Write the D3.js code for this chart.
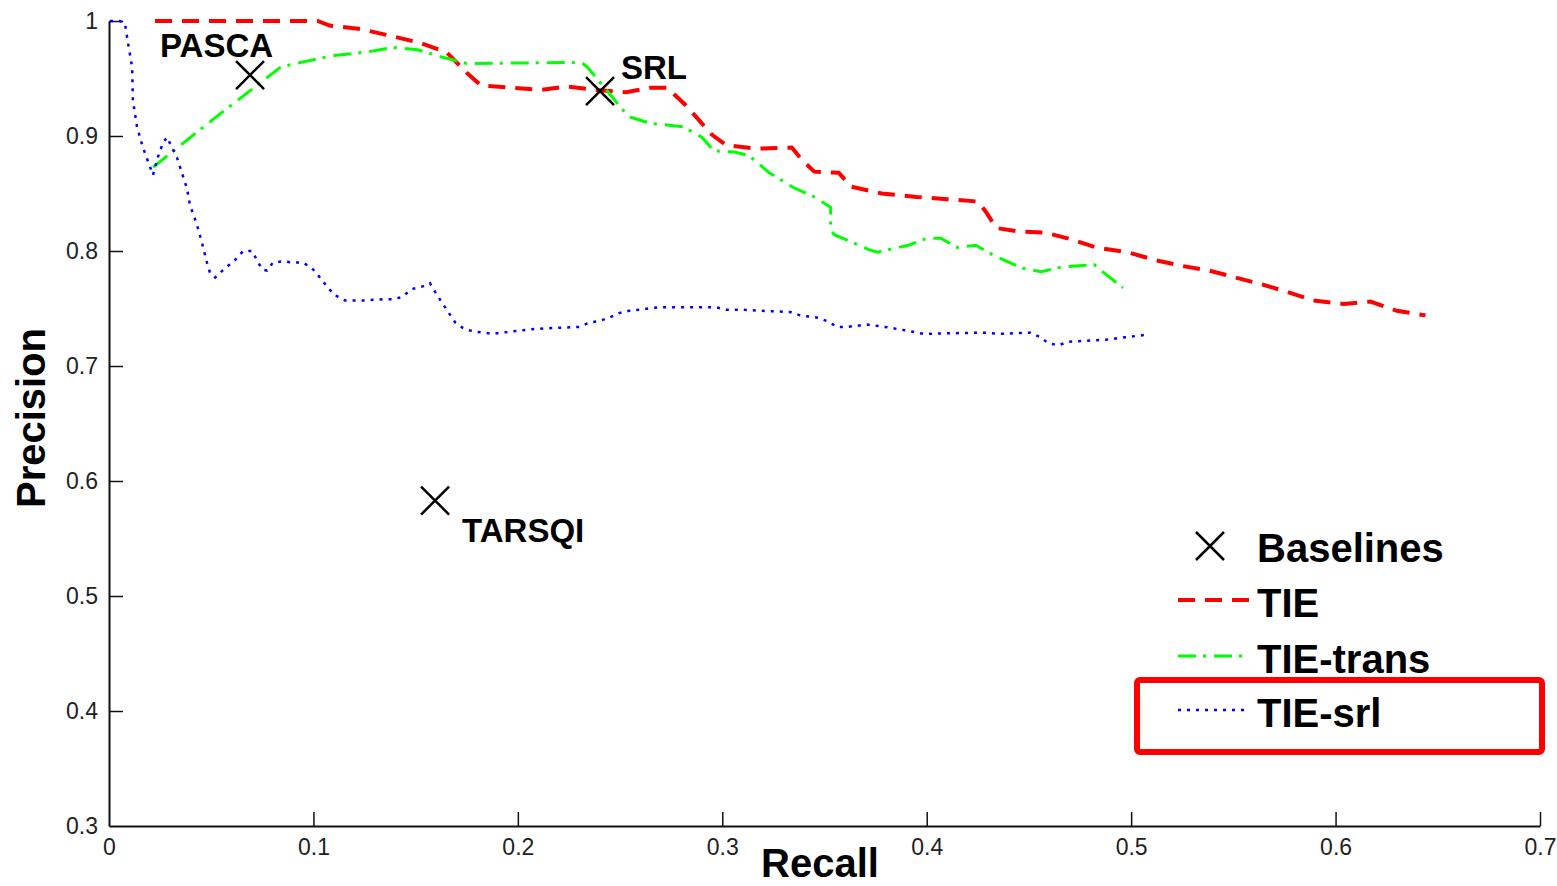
<!DOCTYPE html>
<html lang="en">
<head>
<meta charset="UTF-8">
<title>Precision / Recall</title>
<style>
  body { margin: 0; background: #fff; }
  svg { display: block; }
</style>
</head>
<body>
<script src="https://cdn.jsdelivr.net/npm/d3@7"></script>
<script>
// ---- data ----
var xTicks = [0, 0.1, 0.2, 0.3, 0.4, 0.5, 0.6, 0.7]
var yTicks = [0.3, 0.4, 0.5, 0.6, 0.7, 0.8, 0.9, 1]

var tieRecall = [0.0225, 0.102, 0.108, 0.123, 0.138, 0.152, 0.165, 0.175, 0.182, 0.197, 0.211, 0.224, 0.238, 0.253, 0.265, 0.273,
  0.282, 0.295, 0.302, 0.317, 0.334, 0.339, 0.345, 0.357, 0.363, 0.378, 0.395, 0.410, 0.425, 0.429, 0.434, 0.445, 0.458,
  0.471, 0.483, 0.498, 0.512, 0.525, 0.538, 0.551, 0.564, 0.577, 0.589, 0.604, 0.617, 0.630, 0.644]
var tiePrecision = [1.0, 1.0, 0.996, 0.993, 0.987, 0.981, 0.973, 0.955, 0.944, 0.942, 0.940, 0.943, 0.940, 0.938, 0.942, 0.942,
  0.927, 0.901, 0.892, 0.889, 0.890, 0.879, 0.869, 0.868, 0.856, 0.850, 0.847, 0.845, 0.843, 0.834, 0.820, 0.817, 0.816,
  0.810, 0.803, 0.799, 0.792, 0.787, 0.783, 0.777, 0.771, 0.764, 0.757, 0.754, 0.756, 0.748, 0.744]

var transRecall = [0.0216, 0.052, 0.084, 0.094, 0.110, 0.126, 0.139, 0.151, 0.162, 0.175, 0.231, 0.234, 0.254, 0.265, 0.281,
  0.290, 0.296, 0.306, 0.313, 0.323, 0.335, 0.345, 0.353, 0.353, 0.355, 0.372, 0.376, 0.391, 0.400, 0.407, 0.415, 0.424,
  0.434, 0.447, 0.456, 0.466, 0.482, 0.486, 0.496]
var transPrecision = [0.873, 0.916, 0.960, 0.964, 0.970, 0.973, 0.977, 0.975, 0.969, 0.963, 0.964, 0.960, 0.917, 0.911, 0.908,
  0.899, 0.887, 0.886, 0.883, 0.868, 0.855, 0.847, 0.838, 0.818, 0.814, 0.801, 0.799, 0.805, 0.811, 0.811, 0.803, 0.805,
  0.795, 0.785, 0.782, 0.786, 0.788, 0.782, 0.768]

var srlRecall = [0.0005, 0.0054, 0.0078, 0.0093, 0.0113, 0.0117, 0.0137, 0.0166, 0.0201, 0.0215, 0.0240, 0.0264, 0.0284,
  0.0308, 0.0333, 0.0362, 0.0382, 0.0396, 0.0430, 0.0455, 0.0479, 0.0494, 0.0519, 0.0568, 0.0616, 0.0656, 0.0700, 0.0724,
  0.0749, 0.0773, 0.0802, 0.0851, 0.0900, 0.0949, 0.0993, 0.1027, 0.1067, 0.1101, 0.1155, 0.1243, 0.1341, 0.1389, 0.1433,
  0.1482, 0.1531, 0.1570, 0.1600, 0.1629, 0.1663, 0.1693, 0.1732, 0.1781, 0.1830, 0.1879, 0.1923, 0.1972, 0.2021, 0.2065,
  0.2162, 0.2304, 0.2353, 0.2397, 0.2446, 0.2495, 0.2544, 0.2593, 0.2686, 0.2970, 0.3019, 0.3097, 0.3195, 0.3332, 0.3381,
  0.3469, 0.3513, 0.3562, 0.3611, 0.3708, 0.3796, 0.3894, 0.3982, 0.4271, 0.4369, 0.4506, 0.4555, 0.4594, 0.4643, 0.4692,
  0.4785, 0.4883, 0.4971, 0.5068]
var srlPrecision = [1.0, 1.0, 0.998, 0.981, 0.960, 0.931, 0.908, 0.890, 0.873, 0.866, 0.882, 0.894, 0.899,
  0.890, 0.881, 0.865, 0.854, 0.840, 0.823, 0.807, 0.790, 0.781, 0.777, 0.785, 0.792, 0.800, 0.800, 0.792,
  0.784, 0.783, 0.790, 0.791, 0.790, 0.790, 0.785, 0.778, 0.769, 0.762, 0.757, 0.757, 0.758, 0.758, 0.760,
  0.767, 0.769, 0.772, 0.763, 0.755, 0.746, 0.738, 0.733, 0.730, 0.729, 0.728, 0.729, 0.730, 0.731, 0.732,
  0.733, 0.734, 0.738, 0.739, 0.742, 0.746, 0.748, 0.749, 0.751, 0.751, 0.749, 0.749, 0.748, 0.747, 0.744,
  0.742, 0.739, 0.734, 0.734, 0.736, 0.734, 0.731, 0.728, 0.729, 0.728, 0.729, 0.725, 0.720, 0.718, 0.721,
  0.722, 0.723, 0.725, 0.727]

var baselineNames = ['PASCA', 'SRL', 'TARSQI']
var baselineRecall = [0.069, 0.2402, 0.1595]
var baselinePrecision = [0.953, 0.939, 0.583]

var seriesNames = ['TIE', 'TIE-trans', 'TIE-srl']

// ---- layout ----
var W = 1557, H = 886
var padL = 109, padR = 1540, padT = 21, padB = 826

var x = d3.scaleLinear().domain([0, 0.7]).range([padL, padR])
var y = d3.scaleLinear().domain([0.3, 1]).range([padB, padT])

var svg = d3.select('body').append('svg').attr('width', W).attr('height', H)

var tickFont = '"Liberation Sans Narrow","Arial Narrow","Liberation Sans",Arial,sans-serif'
var boldFont = '"Liberation Sans",Arial,Helvetica,sans-serif'

// axes, matlab style: ticks pointing inward, no box
var xAxis = svg.append('g').attr('transform', `translate(0,${padB})`)
  .call(d3.axisBottom(x).tickValues(xTicks).tickSize(-14).tickSizeOuter(0).tickFormat(d => String(d)))
var yAxis = svg.append('g').attr('transform', `translate(${padL},0)`)
  .call(d3.axisLeft(y).tickValues(yTicks).tickSize(-14).tickSizeOuter(0).tickFormat(d => String(d)))

;[xAxis, yAxis].forEach(function(a) {
  a.select('.domain').attr('stroke', '#111').attr('stroke-width', 2)
  a.selectAll('.tick line').attr('stroke', '#111').attr('stroke-width', 1.5)
  a.selectAll('.tick text').attr('fill', '#222').style('font-family', tickFont).style('font-size', '23px')
})
xAxis.selectAll('.tick text').attr('dy', '0.35em').attr('y', 21)
yAxis.selectAll('.tick text').attr('x', -11)
yAxis.selectAll('.tick').filter(d => d === 0.3).select('line').remove()
xAxis.selectAll('.tick').filter(d => d === 0).select('line').remove()

// axis titles
svg.append('text').attr('x', 820).attr('y', 877).attr('text-anchor', 'middle')
  .style('font-family', boldFont).style('font-weight', 'bold').style('font-size', '40px').text('Recall')
svg.append('text').attr('transform', 'translate(45,418) rotate(-90)').attr('text-anchor', 'middle')
  .style('font-family', boldFont).style('font-weight', 'bold').style('font-size', '40px').text('Precision')

// lines
var line = d3.line().x(d => x(d[0])).y(d => y(d[1]))
var series = [
  { name: seriesNames[0], pts: d3.zip(tieRecall, tiePrecision), color: '#ff0000', dash: '17,10', w: 4 },
  { name: seriesNames[1], pts: d3.zip(transRecall, transPrecision), color: '#00ff00', dash: '18,7,3,8', w: 3 },
  { name: seriesNames[2], pts: d3.zip(srlRecall, srlPrecision), color: '#0000ff', dash: '3,6', w: 2.5 }
]

svg.append('g').selectAll('path').data(series).enter().append('path')
  .attr('fill', 'none')
  .attr('stroke', d => d.color)
  .attr('stroke-width', d => d.w)
  .attr('stroke-dasharray', d => d.dash)
  .attr('d', d => line(d.pts))

// baseline markers
function cross(g, cx, cy, r) {
  g.append('path').attr('d', `M${cx - r},${cy - r}L${cx + r},${cy + r}M${cx - r},${cy + r}L${cx + r},${cy - r}`)
    .attr('stroke', '#000').attr('stroke-width', 2.5).attr('fill', 'none')
}
var labelOffset = [[-90, -18], [21, -12], [27, 41]]
var bl = svg.append('g')
baselineNames.forEach(function(n, i) {
  var cx = x(baselineRecall[i]), cy = y(baselinePrecision[i])
  cross(bl, cx, cy, 14)
  bl.append('text').attr('x', cx + labelOffset[i][0]).attr('y', cy + labelOffset[i][1])
    .style('font-family', boldFont).style('font-weight', 'bold').style('font-size', '33px').text(n)
})

// legend
var lg = svg.append('g')
cross(lg, 1210, 546, 14)
lg.append('text').attr('x', 1257).attr('y', 562)
  .style('font-family', boldFont).style('font-weight', 'bold').style('font-size', '40px').text('Baselines')
var legY = [600, 656, 710]
series.forEach(function(s, i) {
  lg.append('line').attr('x1', 1178).attr('x2', 1250).attr('y1', legY[i]).attr('y2', legY[i])
    .attr('stroke', s.color).attr('stroke-width', s.w).attr('stroke-dasharray', s.dash)
  lg.append('text').attr('x', 1257).attr('y', legY[i] + 17)
    .style('font-family', boldFont).style('font-weight', 'bold').style('font-size', '40px').text(s.name)
})
// highlight box around the last entry
lg.append('rect').attr('x', 1137).attr('y', 680).attr('width', 405).attr('height', 72).attr('rx', 3)
  .attr('fill', 'none').attr('stroke', '#ff0000').attr('stroke-width', 6)
</script>
</body>
</html>
